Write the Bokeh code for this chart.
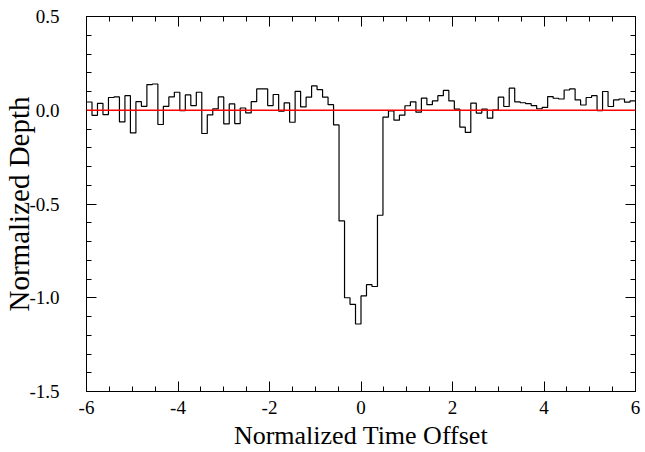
from bokeh.plotting import figure
from bokeh.models import (LinearAxis, FixedTicker, PrintfTickFormatter, Span, Range1d,
                          ColumnDataSource, CustomJSTickFormatter)
from bokeh.embed import file_html
from bokeh.resources import INLINE

# ---- data -------------------------------------------------------------
bin_start = -6.0
bin_width = 0.12
depth = [
    0.044, -0.027, 0.037, -0.023, 0.068, 0.071, -0.062, 0.078, -0.121, 0.046,
    0.021, 0.137, 0.140, -0.076, 0.021, 0.071, 0.096, -0.002, 0.082, 0.025,
    0.096, -0.124, -0.025, 0.007, 0.071, -0.073, 0.034, -0.071, 0.012, -0.014,
    0.046, 0.114, 0.114, 0.025, 0.084, -0.005, 0.039, -0.064, 0.101, 0.018,
    0.070, 0.130, 0.110, 0.070, 0.030, -0.078, -0.590, -1.000, -1.035, -1.140,
    -0.990, -0.930, -0.940, -0.560, -0.037, -0.003, -0.053, -0.026, 0.024, 0.045,
    -0.010, 0.065, 0.030, 0.050, 0.078, 0.106, 0.050, 0.006, -0.090, -0.118,
    0.038, -0.015, 0.006, -0.042, 0.001, 0.070, 0.020, 0.118, 0.045, 0.040,
    0.035, 0.025, 0.008, 0.015, 0.073, 0.064, 0.060, 0.108, 0.114, 0.055,
    0.028, 0.068, 0.078, -0.002, 0.100, 0.020, 0.055, 0.060, 0.043, 0.050,
]
x_ticks = [-6, -4, -2, 0, 2, 4, 6]
x_minor = [-6 + 0.5 * i for i in range(25)]
y_ticks = [-1.5, -1.0, -0.5, 0.0, 0.5]
y_minor = [round(-1.5 + 0.1 * i, 2) for i in range(21)]

edges = [bin_start + bin_width * i for i in range(len(depth) + 1)]
ys = depth + [depth[-1]]
src = ColumnDataSource(dict(x=edges, y=ys))

FONT = "Liberation Serif"

p = figure(frame_width=549, frame_height=375, output_backend="svg", toolbar_location=None,
           x_range=Range1d(-6, 6), y_range=Range1d(-1.5, 0.5),
           x_axis_label="Normalized Time Offset", y_axis_label="Normalized Depth",
           min_border_left=82, min_border_right=6, min_border_top=16, min_border_bottom=0)
p.grid.visible = False
p.outline_line_color = "black"
p.outline_line_width = 1
p.background_fill_color = "white"
p.border_fill_color = "white"

p.step("x", "y", source=src, mode="after", line_color="black", line_width=1.2)
p.add_layout(Span(location=0, dimension="width", line_color="red", line_width=1.4))

def style(ax, ticks, minor, labels=True):
    ax.ticker = FixedTicker(ticks=ticks, minor_ticks=minor)
    ax.major_tick_in = 10
    ax.major_tick_out = 0
    ax.minor_tick_in = 5
    ax.minor_tick_out = 0
    ax.axis_line_color = "black"
    ax.major_tick_line_color = "black"
    ax.minor_tick_line_color = "black"
    ax.major_label_text_font = FONT
    ax.major_label_text_color = "black"
    ax.axis_label_text_font = FONT
    ax.axis_label_text_font_style = "normal"
    ax.axis_label_text_color = "black"
    if not labels:
        ax.formatter = CustomJSTickFormatter(code="return ''")
        ax.major_label_text_font_size = "1px"
        ax.major_label_standoff = 0

xa = p.xaxis[0]
style(xa, x_ticks, x_minor)
xa.formatter = PrintfTickFormatter(format="%d")
xa.major_label_text_font_size = "19px"
xa.major_label_standoff = 9
xa.axis_label_text_font_size = "26px"
xa.axis_label_standoff = 4

ya = p.yaxis[0]
style(ya, y_ticks, y_minor)
ya.formatter = PrintfTickFormatter(format="%.1f")
ya.major_label_text_font_size = "19px"
ya.major_label_standoff = 27
ya.axis_label_text_font_size = "29px"
ya.axis_label_standoff = -9

top = LinearAxis()
style(top, x_ticks, x_minor, labels=False)
p.add_layout(top, "above")
right = LinearAxis()
style(right, y_ticks, y_minor, labels=False)
p.add_layout(right, "right")

open("out.html", "w").write(file_html(p, INLINE))
